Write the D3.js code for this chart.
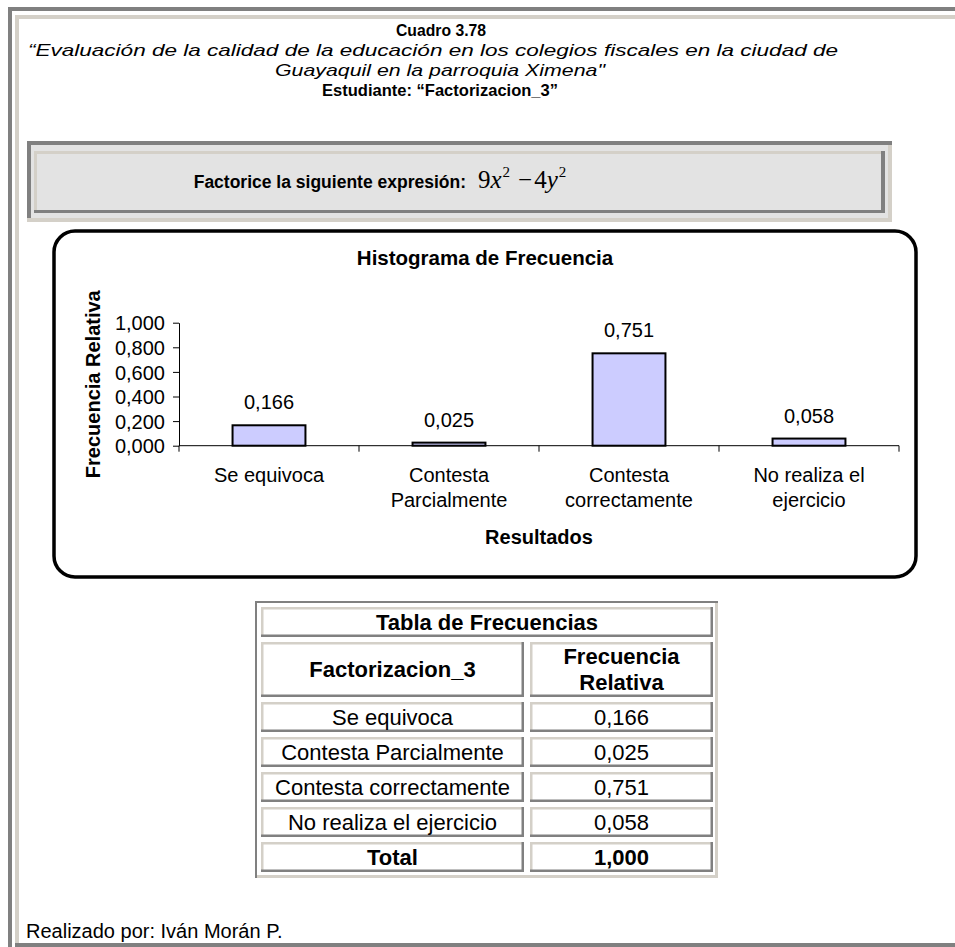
<!DOCTYPE html>
<html><head><meta charset="utf-8">
<script src="https://cdn.jsdelivr.net/npm/d3@7"></script>
<style>html,body{margin:0;padding:0;background:#fff;overflow:hidden}svg{display:block}</style>
</head><body>
<svg id="c" width="955" height="947"></svg>
<script>
// ---------- data ----------
const categories = ["Se equivoca", "Contesta Parcialmente", "Contesta correctamente", "No realiza el ejercicio"];
const categoryLabelLines = [["Se equivoca"], ["Contesta", "Parcialmente"], ["Contesta", "correctamente"], ["No realiza el", "ejercicio"]];
const relFreq = [0.166, 0.025, 0.751, 0.058];
const yTicks = [0, 0.2, 0.4, 0.6, 0.8, 1.0];
const totalValue = 1.000;
const headerLines = ["Cuadro 3.78"];
const subtitleLines = ["\u201cEvaluación de la calidad de la educación en los colegios fiscales en la ciudad de", "Guayaquil en la parroquia Ximena\""];
const studentLine = "Estudiante: \u201cFactorizacion_3\u201d";
const questionText = "Factorice la siguiente expresión:";
const chartTitle = "Histograma de Frecuencia";
const xTitle = "Resultados";
const yTitle = "Frecuencia Relativa";
const tableTitle = "Tabla de Frecuencias";
const tableHeaders = [["Factorizacion_3"], ["Frecuencia", "Relativa"]];
const totalLabel = "Total";
const footer = "Realizado por: Iván Morán P.";

// ---------- helpers ----------
const GRAY = "#808080", BEIGE = "#d4d0c8";
const SANS = "'Liberation Sans', Arial, Helvetica, sans-serif";
const SERIF = "'Liberation Serif', 'Times New Roman', serif";
const loc = d3.formatLocale({decimal: ",", thousands: ".", grouping: [3], currency: ["$", ""]});
const fmt = loc.format(".3f");
const svg = d3.select("#c");
function rect(x, y, w, h, fill) {
  return svg.append("rect").attr("x", x).attr("y", y).attr("width", w).attr("height", h).attr("fill", fill);
}
function text(x, y, s, size, opts = {}) {
  return svg.append("text").attr("x", x).attr("y", y).text(s)
    .attr("font-family", opts.family || SANS).attr("font-size", size)
    .attr("font-weight", opts.bold ? "bold" : "normal")
    .attr("font-style", opts.italic ? "italic" : "normal")
    .attr("text-anchor", opts.anchor || "middle").attr("fill", "#000");
}
function fitted(cx, y, s, size, width, opts = {}) {
  return text(cx - width / 2, y, s, size, Object.assign({}, opts, {anchor: "start"}))
    .attr("textLength", width).attr("lengthAdjust", "spacingAndGlyphs");
}

// ---------- page frame ----------
rect(8, 7, 947, 4, GRAY);
rect(8, 7, 4, 940, GRAY);
rect(15, 15, 940, 4, BEIGE);
rect(15, 15, 4, 928, BEIGE);
rect(15, 943, 940, 4, GRAY);

// ---------- heading ----------
fitted(441, 36, headerLines[0], 17, 90, {bold: true});
fitted(433, 56, subtitleLines[0], 17, 810, {italic: true});
fitted(440, 76, subtitleLines[1], 17, 330, {italic: true});
fitted(440, 96, studentLine, 17, 236, {bold: true});

// ---------- question box ----------
rect(27, 141, 865, 81, "#e3e3e3");
rect(27, 141, 865, 4, GRAY);
rect(27, 141, 4, 81, GRAY);
rect(27, 218, 865, 4, BEIGE);
rect(888, 145, 4, 77, BEIGE);
rect(34, 151, 851, 3, BEIGE);
rect(34, 151, 3, 62, BEIGE);
rect(34, 210, 851, 3, GRAY);
rect(881, 151, 4, 62, GRAY);
text(466, 188, questionText, 17.5, {bold: true, anchor: "end"});
const f = svg.append("text").attr("x", 478).attr("y", 188).attr("font-family", SERIF).attr("font-size", 25).attr("fill", "#000");
f.append("tspan").text("9");
f.append("tspan").attr("font-style", "italic").text("x");
f.append("tspan").attr("font-size", 15).attr("dy", -11).attr("dx", 1).text("2");
f.append("tspan").attr("dy", 11).attr("dx", 8).text("\u2212");
f.append("tspan").attr("dx", 2).text("4");
f.append("tspan").attr("font-style", "italic").text("y");
f.append("tspan").attr("font-size", 15).attr("dy", -11).attr("dx", 1).text("2");

// ---------- chart ----------
svg.append("rect").attr("x", 54).attr("y", 231).attr("width", 862).attr("height", 346)
  .attr("rx", 21).attr("ry", 21).attr("fill", "#fff").attr("stroke", "#000").attr("stroke-width", 3.5);

const x = d3.scaleBand().domain(categories).range([179, 899]).padding(0);
const y = d3.scaleLinear().domain([0, 1]).range([445.7, 322.7]);
const barW = x.bandwidth() * 0.405;

text(485, 265, chartTitle, 20.5, {bold: true});

const gy = svg.append("g").attr("transform", "translate(179,0)")
  .call(d3.axisLeft(y).tickValues(yTicks).tickFormat(fmt).tickSize(6).tickSizeOuter(0).tickPadding(8));
gy.selectAll("text").attr("font-family", SANS).attr("font-size", 20).attr("fill", "#000").attr("dy", "0.36em");
gy.selectAll("line").attr("stroke", "#000");
gy.select(".domain").attr("stroke", "#000");

svg.append("line").attr("x1", x.range()[0]).attr("x2", x.range()[1]).attr("y1", y(0)).attr("y2", y(0))
  .attr("stroke", "#000").attr("stroke-width", 1);
const bounds = categories.map(c => x(c)).concat([x.range()[1]]);
svg.selectAll("line.xt").data(bounds).enter().append("line").attr("class", "xt")
  .attr("x1", d => d).attr("x2", d => d).attr("y1", y(0)).attr("y2", y(0) + 6)
  .attr("stroke", "#000");

svg.selectAll("rect.bar").data(relFreq).enter().append("rect").attr("class", "bar")
  .attr("x", (d, i) => x(categories[i]) + (x.bandwidth() - barW) / 2)
  .attr("y", d => y(d)).attr("width", barW).attr("height", d => y(0) - y(d))
  .attr("fill", "#ccccff").attr("stroke", "#000").attr("stroke-width", 2);

svg.selectAll("text.val").data(relFreq).enter().append("text").attr("class", "val")
  .attr("x", (d, i) => x(categories[i]) + x.bandwidth() / 2).attr("y", d => y(d) - 16)
  .attr("text-anchor", "middle").attr("font-family", SANS).attr("font-size", 20).text(d => fmt(d));

categoryLabelLines.forEach((lines, i) => {
  lines.forEach((ln, j) => {
    text(x(categories[i]) + x.bandwidth() / 2, 482 + j * 25, ln, 20);
  });
});
text(539, 544, xTitle, 20, {bold: true});
text(0, 0, yTitle, 20, {bold: true}).attr("transform", "translate(100," + ((y(0) + y(1)) / 2) + ") rotate(-90)");

// ---------- table ----------
rect(255, 601, 463, 277, "#fff");
rect(255, 875, 463, 3, BEIGE);
rect(715, 601, 3, 277, BEIGE);
rect(255, 601, 463, 2, GRAY);
rect(255, 601, 2, 277, GRAY);
function cell(x0, y0, x1, y1) {
  const bw = 2.5;
  rect(x0, y0, x1 - x0, y1 - y0, "#fff");
  rect(x0, y0, x1 - x0, bw, BEIGE);
  rect(x0, y0, bw, y1 - y0, BEIGE);
  rect(x0, y1 - bw, x1 - x0, bw, GRAY);
  rect(x1 - bw, y0, bw, y1 - y0, GRAY);
}
const colX = [[261, 524], [530, 713]];
const rowH = [30, 55, 30, 30, 30, 30, 30];
const rowY = [];
let yy = 607;
rowH.forEach(h => { rowY.push(yy); yy += h + 5; });
const TF = 22;
cell(261, rowY[0], 713, rowY[0] + rowH[0]);
text(487, rowY[0] + rowH[0] / 2 + 0.36 * TF, tableTitle, TF, {bold: true});
tableHeaders.forEach((lines, c) => {
  cell(colX[c][0], rowY[1], colX[c][1], rowY[1] + rowH[1]);
  const cx = (colX[c][0] + colX[c][1]) / 2;
  const mid = rowY[1] + rowH[1] / 2;
  lines.forEach((ln, j) => {
    text(cx, mid + 0.36 * TF + (j - (lines.length - 1) / 2) * 26, ln, TF, {bold: true});
  });
});
const rows = categories.map((c, i) => [c, fmt(relFreq[i]), false]).concat([[totalLabel, fmt(totalValue), true]]);
rows.forEach((r, i) => {
  const ry = rowY[i + 2], h = rowH[i + 2];
  [0, 1].forEach(c => {
    cell(colX[c][0], ry, colX[c][1], ry + h);
    text((colX[c][0] + colX[c][1]) / 2, ry + h / 2 + 0.36 * TF, r[c], TF, {bold: r[2]});
  });
});

// ---------- footer ----------
text(26, 938, footer, 20, {anchor: "start"});
</script>
</body></html>
